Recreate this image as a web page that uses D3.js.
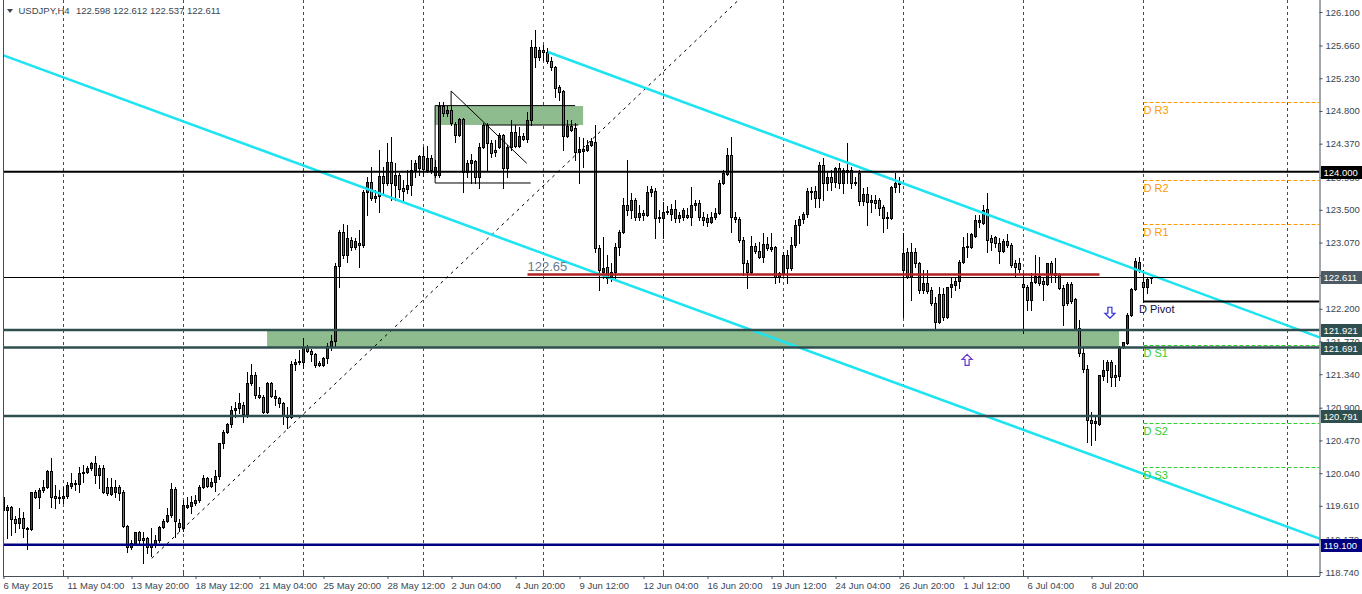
<!DOCTYPE html>
<html><head><meta charset="utf-8">
<script src="https://cdn.jsdelivr.net/npm/d3@7"></script>
<style>
html,body{margin:0;padding:0;background:#fff;}
svg{display:block;font-family:"Liberation Sans",Arial,sans-serif;}
</style></head><body>
<svg id="chart" width="1362" height="594"></svg>
<script>
// ---------------- DATA ----------------
const symbol = "USDJPY,H4";
const lastQuote = ["122.598", "122.612", "122.537", "122.611"];

const open = [119.73,119.56,119.60,119.44,119.39,119.45,119.32,119.31,119.79,119.73,
119.82,119.86,120.07,119.74,119.73,119.71,119.74,119.87,119.90,119.90,
120.04,120.06,120.11,120.17,120.02,120.11,119.86,119.77,119.79,119.86,
119.79,119.35,119.07,119.12,119.27,119.19,119.19,119.07,119.10,119.16,
119.33,119.41,119.49,119.83,119.39,119.32,119.60,119.61,119.65,119.69,
119.86,119.98,119.87,119.92,120.00,120.44,120.58,120.69,120.87,120.90,
120.93,120.82,121.22,121.33,121.07,121.04,120.84,121.22,121.05,121.03,
120.96,120.80,120.78,121.47,121.50,121.50,121.70,121.65,121.61,121.49,
121.46,121.55,121.71,121.78,122.76,123.21,122.91,123.10,123.01,123.07,
123.04,123.73,123.87,123.66,123.68,123.94,123.85,124.13,123.83,123.96,
123.79,123.77,123.83,124.02,124.05,124.21,124.02,124.18,124.06,123.96,
124.87,124.77,124.81,124.63,124.48,124.69,124.00,124.12,124.14,123.93,
124.33,124.62,124.38,124.29,124.33,124.48,124.05,124.33,124.52,124.34,
124.47,124.43,124.68,125.64,125.51,125.60,125.57,125.46,125.38,125.11,
125.06,124.47,124.60,124.58,124.26,124.27,124.29,124.35,124.39,123.00,
122.68,122.75,122.62,122.68,123.01,123.21,123.56,123.50,123.63,123.41,
123.46,123.43,123.73,123.75,123.39,123.39,123.47,123.45,123.51,123.39,
123.41,123.43,123.41,123.56,123.59,123.41,123.39,123.34,123.41,123.46,
123.85,123.97,124.22,123.41,123.38,123.10,122.80,122.68,123.03,122.96,
122.88,123.05,122.99,123.01,122.62,122.67,122.91,122.74,123.04,123.30,
123.38,123.45,123.75,123.75,123.66,124.09,123.85,123.93,123.87,124.05,
123.85,124.02,124.02,123.85,123.98,123.62,123.71,123.60,123.63,123.63,
123.54,123.39,123.39,123.80,123.84,122.71,122.95,122.62,122.95,122.80,
122.45,122.54,122.45,122.28,122.03,122.39,122.09,122.49,122.51,122.57,
122.82,123.01,123.01,123.16,123.34,123.33,123.51,123.13,123.14,123.07,
122.96,123.09,123.04,122.80,122.80,122.53,122.49,122.32,122.55,122.63,
122.57,122.53,122.80,122.64,122.66,122.47,122.28,122.53,122.33,121.95,
121.62,121.41,120.74,120.70,120.69,121.32,121.40,121.50,121.33,121.32,
121.70,121.75,122.12,122.46,122.82,122.55,122.49,122.598];

const high = [119.86,119.62,119.61,119.48,119.58,119.53,119.33,119.79,119.82,119.84,
119.95,120.08,120.24,119.88,119.82,119.86,119.92,120.04,119.95,120.12,
120.15,120.13,120.19,120.27,120.15,120.15,119.98,119.98,119.95,119.88,
119.82,119.36,119.16,119.27,119.28,119.27,119.20,119.32,119.23,119.35,
119.44,119.58,119.91,119.86,119.44,119.69,119.73,119.74,119.75,119.88,
120.02,119.99,119.98,120.08,120.44,120.61,120.70,120.92,120.97,121.09,
120.97,121.37,121.47,121.37,121.17,121.07,121.24,121.24,121.13,121.04,
120.97,120.91,121.51,121.54,121.66,121.82,121.72,121.67,121.62,121.51,
121.57,121.75,121.86,122.80,123.24,123.31,123.30,123.14,123.13,123.24,
123.76,123.93,124.06,123.76,124.29,124.06,124.38,124.46,124.12,123.98,
123.89,124.02,124.16,124.16,124.22,124.33,124.34,124.22,124.16,124.92,
124.92,124.87,124.87,124.65,124.71,124.71,124.16,124.23,124.16,124.38,
124.64,124.64,124.42,124.42,124.51,124.50,124.35,124.68,124.62,124.59,
124.51,124.79,125.73,125.86,125.64,125.67,125.63,125.51,125.39,125.14,
125.08,124.68,124.68,124.64,124.46,124.44,124.42,124.44,124.62,123.04,
123.14,122.91,122.80,123.07,123.24,123.66,124.16,123.72,123.66,123.56,
123.50,123.81,123.81,123.79,123.50,123.60,123.55,123.58,123.63,123.47,
123.52,123.52,123.80,123.63,123.63,123.47,123.45,123.47,123.52,123.89,
124.02,124.31,124.46,123.47,123.41,123.14,122.84,123.16,123.07,123.08,
123.20,123.14,123.20,123.03,122.68,122.95,122.97,123.14,123.37,123.42,
123.47,123.79,123.80,123.81,124.13,124.18,124.00,124.02,124.06,124.12,
124.05,124.38,124.06,123.93,124.02,123.79,123.80,123.70,123.70,123.66,
123.56,123.47,123.81,123.98,123.93,123.20,123.00,123.07,123.00,122.82,
122.71,122.71,122.49,122.36,122.49,122.47,122.49,122.60,122.62,122.84,
123.14,123.20,123.20,123.43,123.43,123.56,123.72,123.17,123.16,123.13,
123.12,123.18,123.07,122.84,122.87,122.67,122.51,122.67,122.91,122.88,
122.60,122.80,122.83,122.87,122.67,122.51,122.55,122.55,122.34,122.05,
121.69,121.46,120.84,120.78,121.33,121.53,121.53,121.53,121.46,121.71,
121.76,122.14,122.47,122.87,122.88,122.71,122.62,122.612];

const low = [119.52,119.19,119.23,119.27,119.32,119.20,119.04,119.29,119.71,119.58,
119.79,119.84,119.60,119.58,119.65,119.65,119.71,119.84,119.82,119.79,
119.92,120.04,120.08,119.91,119.84,119.78,119.75,119.75,119.73,119.69,
119.33,119.00,119.04,119.10,119.10,118.86,118.99,118.95,119.07,119.14,
119.32,119.40,119.46,119.20,119.28,119.28,119.58,119.52,119.62,119.66,
119.84,119.86,119.86,119.81,119.96,120.37,120.57,120.65,120.78,120.83,
120.71,120.78,121.20,121.03,121.03,120.83,120.83,121.04,120.94,120.91,
120.69,120.63,120.77,121.40,121.47,121.42,121.63,121.51,121.43,121.45,
121.45,121.49,121.66,121.70,122.49,122.87,122.82,122.97,122.99,122.75,
123.01,123.43,123.63,123.60,123.47,123.72,123.83,123.63,123.63,123.67,
123.60,123.72,123.70,123.93,123.96,123.94,124.00,123.98,123.93,123.93,
124.73,124.73,124.62,124.39,124.47,123.73,123.93,123.85,123.85,123.79,
124.31,124.02,124.19,124.21,124.31,123.79,123.93,124.29,124.33,124.33,
124.42,124.39,124.62,125.38,125.47,125.47,125.43,125.34,124.98,124.94,
124.29,124.46,124.54,124.16,123.85,124.06,124.27,124.34,122.95,122.45,
122.60,122.54,122.57,122.60,122.91,123.20,123.43,123.39,123.37,123.37,
123.37,123.42,123.68,123.13,123.34,123.13,123.45,123.37,123.34,123.34,
123.37,123.39,123.30,123.50,123.37,123.30,123.29,123.33,123.38,123.45,
123.84,123.96,123.21,123.34,123.08,122.64,122.47,122.66,122.93,122.87,
122.82,122.97,122.96,122.54,122.55,122.64,122.54,122.71,123.01,123.07,
123.33,123.41,123.64,123.54,123.54,123.63,123.76,123.76,123.80,123.79,
123.72,123.85,123.79,123.83,123.56,123.56,123.30,123.47,123.52,123.43,
123.21,123.26,123.38,123.73,123.73,122.09,122.60,122.32,122.75,122.41,
122.41,122.41,122.25,121.93,122.01,122.05,122.08,122.36,122.45,122.47,
122.80,122.88,123.00,123.14,123.28,123.31,122.95,122.97,123.01,122.80,
122.95,123.01,122.75,122.62,122.68,121.88,122.18,122.18,122.54,122.51,
122.32,122.51,122.55,122.55,122.46,121.99,122.25,122.28,121.92,121.58,
121.37,120.45,120.41,120.48,120.67,121.26,121.24,121.19,121.19,121.26,
121.68,121.74,122.11,122.45,122.68,122.29,122.41,122.537];

const close = [119.56,119.60,119.44,119.39,119.45,119.32,119.31,119.79,119.73,119.82,
119.86,120.07,119.73,119.71,119.71,119.74,119.88,119.91,119.91,120.04,
120.06,120.11,120.17,120.02,120.11,119.79,119.78,119.86,119.86,119.78,
119.35,119.07,119.12,119.27,119.16,119.16,119.07,119.11,119.16,119.33,
119.41,119.49,119.83,119.41,119.33,119.62,119.62,119.66,119.69,119.86,
119.98,119.87,119.92,120.00,120.44,120.58,120.69,120.87,120.90,120.96,
120.82,121.22,121.33,121.07,121.04,120.84,121.22,121.05,121.03,120.96,
120.79,120.78,121.47,121.50,121.51,121.70,121.65,121.61,121.46,121.46,
121.55,121.71,121.78,122.76,123.21,122.91,123.13,123.01,123.09,123.04,
123.73,123.87,123.66,123.68,123.94,123.85,124.13,123.85,123.96,123.77,
123.75,123.83,124.02,124.12,124.21,124.04,124.18,124.02,123.96,124.87,
124.77,124.81,124.64,124.48,124.69,124.00,124.12,124.16,123.93,124.33,
124.62,124.38,124.25,124.26,124.48,124.05,124.33,124.52,124.34,124.47,
124.43,124.68,125.64,125.51,125.60,125.57,125.46,125.38,125.10,125.05,
124.47,124.60,124.55,124.26,124.30,124.30,124.35,124.41,123.00,122.71,
122.74,122.60,122.68,123.01,123.21,123.56,123.50,123.63,123.41,123.46,
123.43,123.73,123.77,123.39,123.41,123.47,123.49,123.51,123.39,123.43,
123.50,123.41,123.56,123.59,123.41,123.37,123.34,123.41,123.46,123.85,
123.98,124.22,123.41,123.38,123.10,122.80,122.68,123.03,122.96,122.88,
123.05,123.00,123.01,122.62,122.67,122.91,122.74,123.04,123.30,123.38,
123.45,123.75,123.73,123.66,124.09,123.85,123.93,123.87,124.05,123.85,
124.02,124.00,123.85,123.87,123.62,123.71,123.60,123.63,123.59,123.52,
123.39,123.41,123.80,123.85,123.85,122.93,122.62,122.95,122.80,122.45,
122.54,122.43,122.28,122.03,122.39,122.09,122.49,122.53,122.57,122.82,
123.01,123.03,123.18,123.37,123.37,123.50,123.10,123.08,123.07,122.96,
123.09,123.04,122.78,122.75,122.72,122.49,122.32,122.55,122.63,122.54,
122.53,122.80,122.67,122.67,122.47,122.25,122.53,122.30,121.93,121.62,
121.41,120.74,120.70,120.73,121.33,121.40,121.50,121.30,121.30,121.70,
121.76,122.12,122.46,122.83,122.72,122.49,122.59,122.611];

// time axis labels, one every 16 bars
const timeLabels = ["6 May 2015","11 May 04:00","13 May 20:00","18 May 12:00","21 May 04:00",
"25 May 20:00","28 May 12:00","2 Jun 04:00","4 Jun 20:00","9 Jun 12:00","12 Jun 04:00",
"16 Jun 20:00","19 Jun 12:00","24 Jun 04:00","26 Jun 20:00","1 Jul 12:00","6 Jul 04:00","8 Jul 20:00"];
const timeLabelBars = d3.range(0, 273, 16);
const gridBars = [15, 45, 75, 105, 135, 165, 195, 225, 255, 285, 321];

const priceTicks = [126.100,125.660,125.230,124.800,124.370,123.930,123.500,123.070,122.640,
122.200,121.770,121.340,120.900,120.470,120.040,119.610,119.170,118.740];

// horizontal levels (with price tags on the axis)
const levelPrices = [124.000, 122.611, 121.921, 121.691, 120.791, 119.100];
const levelKinds  = ["major", "price", "zone", "zone", "zone", "base"];

// daily pivot levels
const pivotNames  = ["D R3","D R2","D R1","D Pivot","D S1","D S2","D S3"];
const pivotValues = [124.913, 123.892, 123.310, 122.306, 121.724, 120.695, 120.117];
const pivotStartBar = 285;

// support line 122.65
const supportValue = 122.65;
const supportBars = [131, 274];

// rectangles (bar from, bar to) and (price top, price bottom)
const zoneBars   = [[65.9, 278.9], [107.9, 144.9]];
const zonePrices = [[121.921, 121.691], [124.865, 124.615]];

// trend / channel lines: [bar, price] end points
const channelLow  = [[0, 125.53], [329, 119.18]];
const channelHigh = [[136.1, 125.575], [329, 121.825]];
const dashedTrend = [[37.05, 118.92], [183, 126.22]];
// thin drawn lines around the early-June box
const boxLines = [
  [[107.9, 124.87], [142.9, 124.87]],
  [[119.9, 124.615], [143.7, 124.615]],
  [[107.9, 124.87], [107.9, 123.853], [131.8, 123.853]],
  [[111.9, 125.062], [130.8, 124.112]],
  [[111.9, 125.062], [111.9, 124.87]]
];
// arrows: bar, price of top edge
const arrowUp   = [240.9, 121.60];
const arrowDown = [276.6, 122.22];

// ---------------- DRAW ----------------
const svg = d3.select("#chart");
const xs = d3.scaleLinear().domain([0, 329]).range([3.5, 1319.5]);
const ys = d3.scaleLinear().domain([118.688, 126.258]).range([576, 0]);
const AXC = "#434f5a", TXT = "#3a4651";

svg.append("rect").attr("width",1362).attr("height",594).attr("fill","#fff");
svg.append("defs").append("clipPath").attr("id","clip")
  .append("rect").attr("x",3).attr("y",0).attr("width",1316.5).attr("height",576);
const plot = svg.append("g").attr("clip-path","url(#clip)");

// grid
plot.selectAll("line.grid").data(gridBars).join("line")
  .attr("x1",d=>xs(d)).attr("x2",d=>xs(d)).attr("y1",0).attr("y2",576)
  .attr("stroke","#444c55").attr("stroke-width",1).attr("stroke-dasharray","3,3");

// zones
plot.selectAll("rect.zone").data(zoneBars).join("rect")
  .attr("x",(d)=>xs(d[0])).attr("width",d=>xs(d[1])-xs(d[0]))
  .attr("y",(d,i)=>ys(zonePrices[i][0])).attr("height",(d,i)=>ys(zonePrices[i][1])-ys(zonePrices[i][0]))
  .attr("fill","#8fbc8f");

// candles
const n = close.length;
const idx = d3.range(n);
plot.selectAll("line.wick").data(idx).join("line")
  .attr("x1",i=>xs(i)).attr("x2",i=>xs(i))
  .attr("y1",i=>Math.round(ys(high[i]))).attr("y2",i=>Math.round(ys(low[i]))+1)
  .attr("stroke","#000").attr("stroke-width",1);
idx.forEach(i=>{
  const yo = Math.round(ys(open[i])), yc = Math.round(ys(close[i]));
  const top = Math.min(yo,yc)+0.5, bot = Math.max(yo,yc)+0.5;
  const up = close[i] >= open[i];
  if (bot - top < 1) {
    plot.append("line").attr("x1",xs(i)-1.5).attr("x2",xs(i)+1.5).attr("y1",top).attr("y2",top)
      .attr("stroke","#000");
  } else {
    plot.append("rect").attr("x",xs(i)-1).attr("width",2).attr("y",top).attr("height",bot-top)
      .attr("fill", up ? "#3a4750" : "#d94545").attr("stroke","#000").attr("stroke-width",1);
  }
});

// drawn thin lines
const lineGen = d3.line().x(d=>xs(d[0])).y(d=>ys(d[1]));
boxLines.forEach(l=>{
  plot.append("path").attr("d",lineGen(l)).attr("fill","none").attr("stroke","#000").attr("stroke-width",1);
});
(function(){
  const [a,b]=dashedTrend; const s=(b[1]-a[1])/(b[0]-a[0]);
  const pEnd = 126.30; const barEnd = a[0] + (pEnd-a[1])/s;
  plot.append("path").attr("d",lineGen([a,[barEnd,pEnd]])).attr("fill","none")
    .attr("stroke","#000").attr("stroke-width",1).attr("stroke-dasharray","3,4");
})();

// channel lines
[channelLow, channelHigh].forEach(c=>{
  plot.append("path").attr("d",lineGen(c)).attr("fill","none")
    .attr("stroke","#1ee4f2").attr("stroke-width",2.5);
});

// horizontal levels
const kindStyle = {major:["#000",2], price:["#000",1], zone:["#2f4f4f",2.5], base:["#000080",2.5]};
levelPrices.forEach((p,i)=>{
  const [c,w] = kindStyle[levelKinds[i]];
  const yy = w===1 ? Math.round(ys(p))+0.5 : ys(p);
  plot.append("line").attr("x1",3).attr("x2",1319.5).attr("y1",yy).attr("y2",yy)
    .attr("stroke",c).attr("stroke-width",w);
});

// support line
plot.append("line").attr("x1",xs(supportBars[0])).attr("x2",xs(supportBars[1]))
  .attr("y1",ys(supportValue)).attr("y2",ys(supportValue))
  .attr("stroke","#b22222").attr("stroke-width",2.5);
plot.append("text").attr("x",xs(supportBars[0])).attr("y",ys(supportValue)-4)
  .attr("font-size",13).attr("fill","#6b7b8c").text(supportValue.toFixed(2));

// pivots
pivotValues.forEach((p,i)=>{
  const name = pivotNames[i];
  const isP = name === "D Pivot";
  const col = isP ? "#000" : (name.indexOf(" R") >= 0 ? "#ff9900" : "#32cd32");
  const yy = Math.round(ys(p))+0.5;
  const l = plot.append("line").attr("x1",xs(pivotStartBar)).attr("x2",1319.5).attr("y1",yy).attr("y2",yy);
  if (isP) l.attr("stroke","#000").attr("stroke-width",2);
  else l.attr("stroke",col).attr("stroke-width",1).attr("stroke-dasharray","4,2");
  plot.append("text").attr("x", isP ? xs(pivotStartBar)-4.5 : xs(pivotStartBar))
    .attr("y", yy+11).attr("font-size",11).attr("fill", isP ? "#10104a" : col).text(name);
});

// arrows
function arrow(cx, ty, dir, color){
  const pts = dir==="up"
    ? [[0,0],[5,5],[2,5],[2,11],[-2,11],[-2,5],[-5,5]]
    : [[0,11],[5,6],[2,6],[2,0],[-2,0],[-2,6],[-5,6]];
  plot.append("path").attr("d","M"+pts.map(p=>(cx+p[0])+","+(ty+p[1])).join("L")+"Z")
    .attr("fill","#fff").attr("stroke",color).attr("stroke-width",1.2);
}
arrow(xs(arrowUp[0]), ys(arrowUp[1]), "up", "#6a35c8");
arrow(xs(arrowDown[0]), ys(arrowDown[1]), "down", "#2f2fe0");

// ---------- axes ----------
svg.append("line").attr("x1",3.5).attr("x2",3.5).attr("y1",0).attr("y2",576).attr("stroke",AXC);
const yAxis = d3.axisRight(ys).tickValues(priceTicks).tickSize(3).tickSizeOuter(0).tickFormat(d3.format(".3f"));
const gy = svg.append("g").attr("transform","translate(1319.5,0)").call(yAxis);
gy.select(".domain").attr("stroke",AXC).attr("d","M0.5,0V576");
gy.selectAll(".tick line").attr("stroke",AXC);
gy.selectAll("text").attr("font-family","Liberation Sans, Arial, sans-serif").attr("font-size",9.5).attr("fill",TXT).attr("x",6);

const xAxis = d3.axisBottom(xs).tickValues(timeLabelBars).tickSize(3).tickSizeOuter(0)
  .tickFormat((d,i)=>timeLabels[i]);
const gx = svg.append("g").attr("transform","translate(0,576)").call(xAxis);
gx.select(".domain").attr("stroke",AXC).attr("d","M3,0.5H1320");
gx.selectAll(".tick line").attr("stroke",AXC);
gx.selectAll("text").attr("font-family","Liberation Sans, Arial, sans-serif").attr("font-size",9.5)
  .attr("fill",TXT).attr("text-anchor","start").attr("x",-0.5).attr("y",6);
svg.selectAll("line.utick").data(gridBars).join("line")
  .attr("x1",d=>xs(d)).attr("x2",d=>xs(d)).attr("y1",572).attr("y2",576).attr("stroke",AXC);

// level price tags
const tagFill = {major:"#000", price:"#4d5a63", zone:"#2f4f4f", base:"#000080"};
levelPrices.forEach((p,i)=>{
  const yy = ys(p);
  svg.append("rect").attr("x",1321).attr("y",Math.round(yy)-6).attr("width",41).attr("height",13)
    .attr("fill",tagFill[levelKinds[i]]);
  svg.append("text").attr("x",1323.5).attr("y",Math.round(yy)+4).attr("font-size",9.5)
    .attr("fill","#fff").text(p.toFixed(3));
});

// header
svg.append("path").attr("d","M7,9L13,9L10,13Z").attr("fill","#3a4651");
svg.append("text").attr("x",18.5).attr("y",14).attr("font-size",9.5).attr("fill",TXT).text(symbol);
svg.append("text").attr("x",76).attr("y",14).attr("font-size",9.5).attr("fill",TXT).text(lastQuote.join(" "));
</script>
</body></html>
